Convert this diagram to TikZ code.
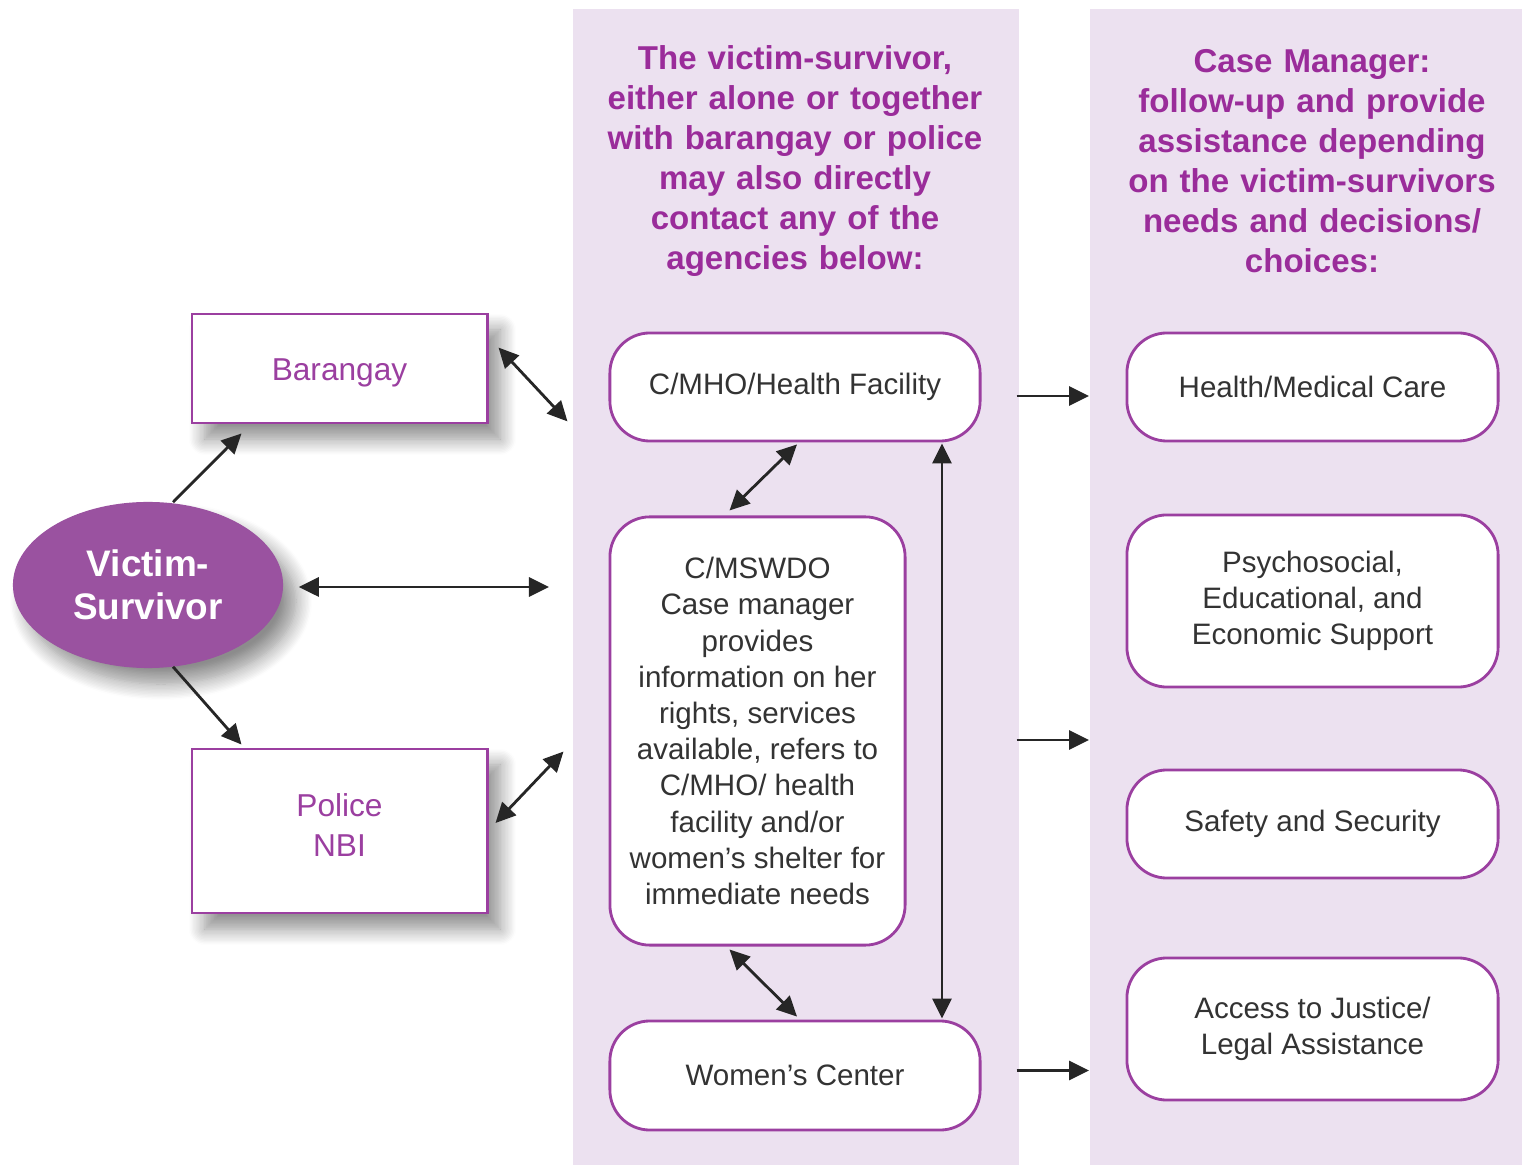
\documentclass[tikz,border=0pt]{standalone}
\usepackage{fontspec}
\setmainfont{Liberation Sans}
\usepackage{tikz}
\usetikzlibrary{positioning}
\usetikzlibrary{arrows.meta}
\usetikzlibrary{shapes.geometric}
\usetikzlibrary{shadows.blur}
\usetikzlibrary{calc}

\definecolor{vsband}{HTML}{ECE1F0}
\definecolor{vsline}{HTML}{9B3FA0}
\definecolor{vshead}{HTML}{9A2C9A}
\definecolor{vsfill}{HTML}{9A52A0}
\definecolor{vstext}{HTML}{333333}

\begin{document}
\begin{tikzpicture}[
  x=0.01cm, y=-0.01cm,
  band/.style={fill=vsband, draw=none},
  head/.style={text=vshead, font=\fontsize{9.4}{11.4}\selectfont\bfseries,
    align=center, text width=4.3cm},
  soft/.style={blur shadow={shadow xshift=0.13cm, shadow yshift=-0.16cm,
    shadow blur radius=0.16cm, shadow blur steps=12, shadow opacity=45}},
  sqbox/.style={draw=vsline, line width=0.8pt, fill=white, text=vsline,
    font=\fontsize{9}{11.3}\selectfont, align=center, minimum width=2.95cm, soft},
  rbox/.style={draw=vsline, line width=0.8pt, fill=white, rounded corners=0.4cm,
    text=vstext, font=\fontsize{8.4}{10.3}\selectfont, align=center},
  arr/.style={-{Triangle[length=2mm,width=1.9mm]}, line width=0.8pt, black!85},
  dbl/.style={{Triangle[length=2mm,width=1.9mm]}-{Triangle[length=2mm,width=1.9mm]}, line width=0.8pt, black!85},
]
  \useasboundingbox (0,0) rectangle (1522,1165);
  \node[band, minimum width=4.46cm, minimum height=11.57cm, anchor=north west] (midband) at (572,8) {};
  \node[band, minimum width=4.33cm, minimum height=11.57cm, anchor=north west] (rightband) at (1089,8) {};

  % headers
  \node[head] (midhead) at (795,161) {The victim-survivor,\\either alone or together\\with barangay or police\\may also directly\\contact any of the\\agencies below:};
  \node[head] (righthead) at (1312,161) {Case Manager:\\follow-up and provide\\assistance depending\\on the victim-survivors\\needs and decisions/\\choices:};

  % left side
  \node[ellipse, fill=vsfill, text=white, minimum width=2.7cm, minimum height=1.66cm,
    font=\fontsize{10.5}{12.3}\selectfont\bfseries, align=center, soft]
    (vs) at (148,585) {Victim-\\Survivor};
  \node[sqbox, minimum height=1.09cm, text height=0.3cm] (barangay) at (339.5,368.5) {Barangay};
  \node[sqbox, minimum height=1.64cm, text depth=0.12cm] (police) at (339.5,831) {Police\\NBI};

  % agencies
  \node[rbox, minimum width=3.7cm, minimum height=1.08cm] (cmho) at (795,387) {C/MHO/Health Facility};
  \node[rbox, minimum width=2.95cm, minimum height=4.28cm] (mswdo) at (757.5,731) {C/MSWDO\\Case manager\\provides\\information on her\\rights, services\\available, refers to\\C/MHO/ health\\facility and/or\\women’s shelter for\\immediate needs};
  \node[rbox, minimum width=3.7cm, minimum height=1.09cm] (wc) at (795,1075.5) {Women’s Center};

  % case manager
  \node[rbox, minimum width=3.71cm, minimum height=1.08cm] (health) at (1312.5,387) {Health/Medical Care};
  \node[rbox, minimum width=3.71cm, minimum height=1.72cm] (psycho) at (1312.5,601) {Psychosocial,\\Educational, and\\Economic Support};
  \node[rbox, minimum width=3.71cm, minimum height=1.08cm] (safety) at (1312.5,824) {Safety and Security};
  \node[rbox, minimum width=3.71cm, minimum height=1.42cm] (justice) at (1312.5,1029) {Access to Justice/\\Legal Assistance};

  \coordinate (midout) at ($(mswdo.east)+(110,9)$);

  \draw[arr] ($(vs.north)+(25,1)$) -- ($(barangay.south west)+(51,9)$);
  \draw[arr] ($(vs.south)+(25,-2)$) -- ($(police.north west)+(51,-3)$);
  \draw[dbl] ($(vs.east)+(15,2)$) -- ($(midband.west |- vs.east)+(-23,2)$);
  \draw[dbl] ($(barangay.north east)+(10,35)$) -- ($(barangay.south east)+(79,-3)$);
  \draw[dbl] ($(police.east)+(7,-8)$) -- ($(police.north east)+(75,4)$);
  \draw[dbl] ($(cmho.south)+(2,2)$) -- ($(mswdo.north)+(-28,-5)$);
  \draw[dbl] ($(mswdo.south)+(-28,3)$) -- ($(wc.north)+(2,-3)$);
  \draw[dbl] ($(cmho.south)+(147,1)$) -- ($(wc.north)+(147,-1)$);

  \draw[arr] ($(cmho.east)+(35,9)$) -- (rightband.west |- {$(cmho.east)+(0,9)$});
  \draw[arr] (midout) -- (rightband.west |- midout);
  \draw[arr] ($(wc.east)+(35,-5)$) -- (rightband.west |- {$(wc.east)+(0,-5)$});
\end{tikzpicture}
\end{document}
